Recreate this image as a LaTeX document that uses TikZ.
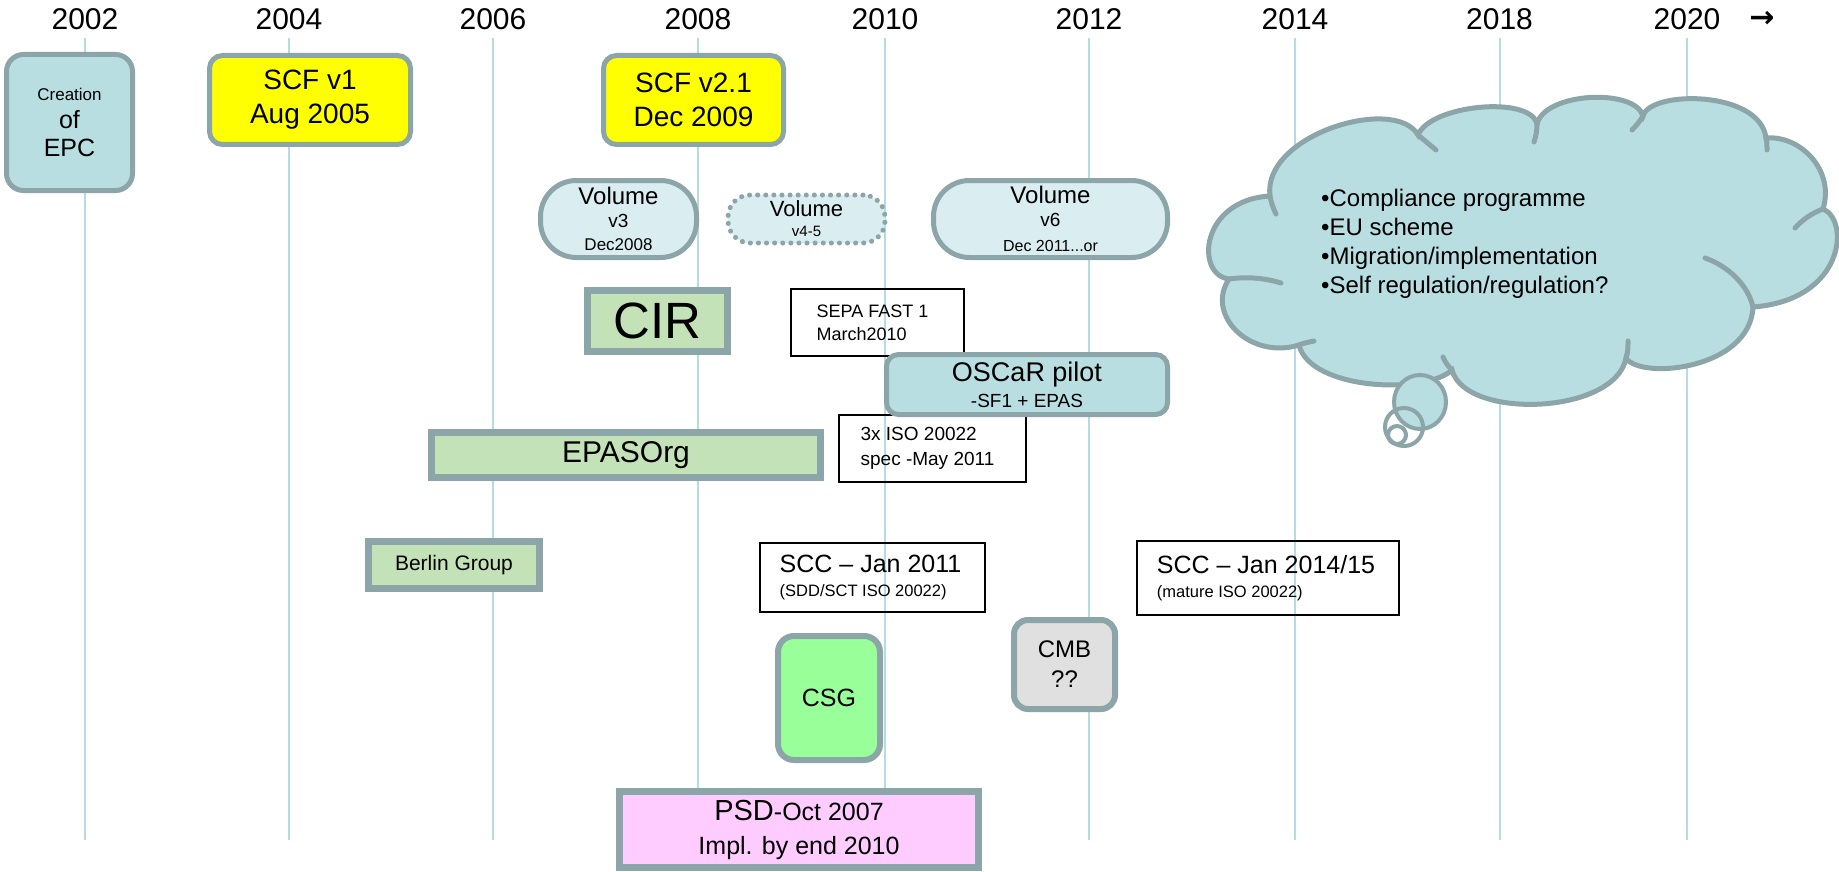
\documentclass[tikz,border=0pt]{standalone}
\usepackage{fontspec}
\setmainfont{Liberation Sans}
\newfontfamily\djv{DejaVu Sans}
\newcommand\fsz[2]{\fontsize{#1}{#2}\selectfont}
\definecolor{bord}{HTML}{8CA5A8}
\definecolor{lb}{HTML}{B9DEE2}
\definecolor{vlb}{HTML}{DAEDF0}
\definecolor{grn}{HTML}{C4E2B8}
\definecolor{csgc}{HTML}{99FF99}
\definecolor{cmbc}{HTML}{E0E0E0}
\definecolor{pnk}{HTML}{FFCCFF}
\definecolor{ylw}{HTML}{FFFF00}
\definecolor{vl}{HTML}{B5DCE0}
\begin{document}
\begin{tikzpicture}[x=1pt,y=-1pt,
  box/.style={draw=bord, line width=5pt, inner sep=0pt, align=center, text=black},
  sq/.style={box, line width=7pt, fill=grn},
  wb/.style={draw=black, line width=2pt, inner xsep=0pt, inner ysep=0pt, align=left, text=black},
  yr/.style={font=\fsz{30}{36}, inner xsep=0pt, inner ysep=8pt, text depth=0pt},
  vline/.style={draw=vl, line width=2pt}]
\useasboundingbox (0,0) rectangle (1839,872);
\fill[white] (0,0) rectangle (1839,872);

% year labels and grid lines
\foreach \nm/\x in {2002/85,2004/289,2006/493,2008/698,2010/885,2012/1089,2014/1295,2018/1499.5,2020/1687}{
  \node[yr] (y\nm) at (\x,19) {\nm};
  \coordinate (b\nm) at (\x,840);
  \draw[vline] (y\nm.south) -- (b\nm);
}
\node[font=\djv\bfseries\fsz{30}{36}, inner sep=0pt] (arr) at (1762,19) {→};

% top row
\node[box, fill=lb, rounded corners=17pt, minimum width=126pt, minimum height=136pt, font=\fsz{25}{28}] (epc) at (69.5,122.5)
  {\fsz{17}{28}Creation\\\fsz{25}{28}of\\\fsz{25}{28}EPC};
\node[box, fill=ylw, rounded corners=13pt, minimum width=201pt, minimum height=89pt, font=\fsz{28}{34}] (scf1) at (310,100)
  {SCF v1\\Aug 2005};
\node[box, fill=ylw, rounded corners=13pt, minimum width=180pt, minimum height=89pt, font=\fsz{28}{34}] (scf2) at (693.5,100)
  {SCF v2.1\\Dec 2009};

% volumes
\node[box, fill=vlb, rounded corners=36pt, minimum width=156pt, minimum height=77pt, font=\fsz{24}{23}] (vol3) at (618.5,219)
  {\fsz{24}{23}Volume\\\fsz{19}{23}v3\\\fsz{17}{23}Dec2008};
\node[box, fill=vlb, rounded corners=22pt, minimum width=157pt, minimum height=48pt,
  dash pattern=on 0.1pt off 8pt, line cap=round, font=\fsz{22}{20}] (vol45) at (806.5,219)
  {\fsz{22}{20}Volume\\\fsz{15}{20}v4-5};
\node[box, fill=vlb, rounded corners=36pt, minimum width=234pt, minimum height=77pt, font=\fsz{24}{23}] (vol6) at (1050.5,219)
  {\fsz{24}{23}Volume\\\fsz{19}{23}v6\\[2pt]\fsz{16}{23}Dec 2011...or};

% middle
\node[sq, minimum width=140pt, minimum height=61pt, font=\fsz{51}{56}] (cir) at (657.5,321) {CIR};
\node[wb, minimum width=173pt, minimum height=67pt, font=\fsz{18}{23}] (sepa) at (877.5,322.5)
  {SEPA FAST 1\hspace*{10pt}\\March2010};
\node[wb, minimum width=187pt, minimum height=67pt, font=\fsz{19}{25}] (iso) at (932.5,448.5)
  {3x ISO 20022\\spec -May 2011\hspace*{10pt}};
\node[box, fill=lb, rounded corners=12pt, minimum width=281pt, minimum height=60pt, font=\fsz{27}{26}] (oscar) at (1027,384.5)
  {\fsz{27}{26}OSCaR pilot\\\fsz{19}{26}-SF1 + EPAS};
\node[sq, minimum width=389pt, minimum height=45pt, font=\fsz{30}{34}] (epas) at (626,455) {EPASOrg};
\node[sq, minimum width=171pt, minimum height=47pt, font=\fsz{21}{24}] (berlin) at (454,565) {Berlin Group};
\node[wb, minimum width=225pt, minimum height=69pt, font=\fsz{25}{24}] (scc1) at (872.5,577)
  {\fsz{25}{24}SCC – Jan 2011\hspace*{4pt}\\\fsz{16.5}{24}(SDD/SCT ISO 20022)};
\node[wb, minimum width=262pt, minimum height=74pt, font=\fsz{25}{24}] (scc2) at (1268,578)
  {\fsz{25}{24}SCC – Jan 2014/15\hspace*{4pt}\\\fsz{16.5}{24}(mature ISO 20022)};

% bottom
\node[box, line width=6pt, fill=cmbc, rounded corners=14pt, minimum width=101pt, minimum height=89pt, font=\fsz{24}{30}] (cmb) at (1064.5,664.5)
  {CMB\\??};
\node[box, line width=6pt, fill=csgc, rounded corners=16pt, minimum width=102pt, minimum height=124pt, font=\fsz{25}{30}] (csg) at (829,698) {CSG};
\node[box, line width=7pt, fill=pnk, minimum width=359pt, minimum height=76pt, font=\fsz{25}{34}] (psd) at (799,829.5)
  {\fsz{29}{34}PSD\fsz{25}{34}-Oct 2007\\\fsz{25}{34}Impl. by end 2010};

% cloud
\begin{scope}[line width=5pt, draw=bord]
\path[fill=lb, draw=bord] (1229,279)
  .. controls (1195,275) and (1200,200) .. (1270,196)
  .. controls (1262,135) and (1395,95) .. (1418,135)
  .. controls (1430,105) and (1530,95) .. (1537,124)
  .. controls (1545,92) and (1635,88) .. (1643,116)
  .. controls (1650,90) and (1760,90) .. (1766,138)
  .. controls (1800,135) and (1835,170) .. (1823,209)
  .. controls (1850,220) and (1845,300) .. (1753,307)
  .. controls (1750,370) and (1640,380) .. (1626,358)
  .. controls (1615,415) and (1465,420) .. (1452,370)
  .. controls (1425,395) and (1310,390) .. (1299,345)
  .. controls (1250,360) and (1205,315) .. (1229,279) -- cycle;
\draw[line cap=round] (1229,279) .. controls (1250,276) and (1268,279) .. (1281,283);
\draw[line cap=round] (1270,196) .. controls (1271,202) and (1273,208) .. (1276,214);
\draw[line cap=round] (1418,135) .. controls (1424,140) and (1430,145) .. (1436,150);
\draw[line cap=round] (1537,124) .. controls (1537,130) and (1536,136) .. (1534,142);
\draw[line cap=round] (1643,116) .. controls (1640,121) and (1636,126) .. (1632,130);
\draw[line cap=round] (1766,138) .. controls (1767,142) and (1767,146) .. (1767,150);
\draw[line cap=round] (1823,209) .. controls (1812,213) and (1802,220) .. (1795,228);
\draw[line cap=round] (1753,307) .. controls (1748,285) and (1728,266) .. (1705,258);
\draw[line cap=round] (1626,358) .. controls (1628,353) and (1628,347) .. (1628,341);
\draw[line cap=round] (1452,370) .. controls (1448,366) and (1445,362) .. (1443,357);
\draw[line cap=round] (1299,345) .. controls (1304,343) and (1309,342) .. (1314,341);
\end{scope}
\node[align=left, anchor=west, inner sep=0pt, font=\fsz{24}{29}] (cloudtxt) at (1321,244)
  {•Compliance programme\\•EU scheme\\•Migration/implementation\\•Self regulation/regulation?};
\filldraw[fill=lb, draw=bord, line width=4pt] (1420,402) ellipse [x radius=26, y radius=27];
\draw[bord, line width=4pt] (1404,427) circle [radius=19];
\draw[bord, line width=4pt] (1397,435) circle [radius=9];
\end{tikzpicture}
\end{document}
